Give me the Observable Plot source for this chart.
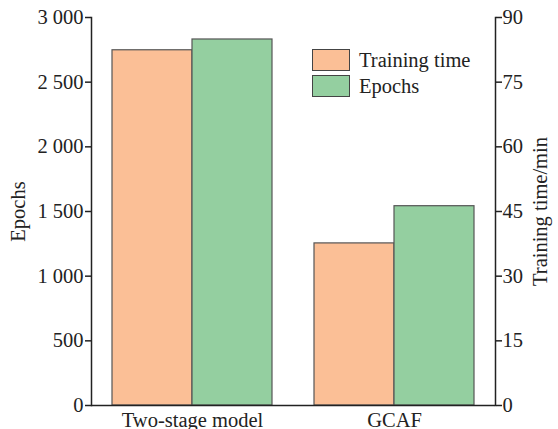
<!DOCTYPE html>
<html>
<head>
<meta charset="utf-8">
<script src="https://cdn.jsdelivr.net/npm/d3@7"></script>
<script src="https://cdn.jsdelivr.net/npm/@observablehq/plot@0.6"></script>
<style>
  body { margin: 0; background: #fff; }
  #wrap { position: relative; width: 558px; height: 429px; font-family: "Liberation Serif", "Times New Roman", serif; }
  #legend { position: absolute; left: 312px; top: 47px; font-size: 20.5px; color: #222; }
  .row { display: flex; align-items: center; height: 26px; }
  .sw { width: 38px; height: 22px; border: 1.2px solid #444; box-sizing: border-box; margin-right: 9px; }
</style>
</head>
<body>
<div id="wrap"></div>
<script>
const models = ["Two-stage model", "GCAF"];
const series = ["Training time", "Epochs"];
const colors = ["#fbbf96", "#94cfa0"];
const trainingTimeMin = [82.4, 37.6];   // right axis, minutes
const epochs = [2830, 1541];            // left axis
const leftTicks = [0, 500, 1000, 1500, 2000, 2500, 3000];
const rightTicks = [0, 15, 30, 45, 60, 75, 90];
const leftMax = 3000, rightMax = 90;
const k = leftMax / rightMax;

const rows = [];
models.forEach((m, i) => {
  rows.push({model: m, series: "Training time", y: trainingTimeMin[i] * k});
  rows.push({model: m, series: "Epochs", y: epochs[i]});
});

const fmt = d => d3.format(",")(d).replace(/,/g, " ");
const font = "Liberation Serif, Times New Roman, serif";

const chart = Plot.plot({
  width: 558,
  height: 429,
  marginLeft: 90,
  marginRight: 63,
  marginTop: 17,
  marginBottom: 24,
  style: {fontFamily: font, fontSize: "20.5px", color: "#222", background: "#fff"},
  fx: {domain: models, padding: 0, label: null},
  x: {domain: series, paddingInner: 0, paddingOuter: 0.25, axis: null},
  y: {domain: [0, leftMax]},
  color: {domain: series, range: colors},
  marks: [
    Plot.barY(rows, {fx: "model", x: "series", y: "y", fill: "series", stroke: "#555", strokeWidth: 1.2}),
    Plot.frame({anchor: "left", facetAnchor: "left", stroke: "#222", strokeWidth: 1.5}),
    Plot.frame({anchor: "right", facetAnchor: "right", stroke: "#222", strokeWidth: 1.5}),
    Plot.ruleY([0], {stroke: "#222", strokeWidth: 1.5}),
    Plot.axisY(leftTicks, {anchor: "left", tickSize: 6, tickPadding: 2, tickFormat: fmt,
      label: "Epochs", labelAnchor: "center", labelOffset: 81, labelArrow: false, strokeWidth: 1.5}),
    Plot.axisY(rightTicks.map(v => v * k), {anchor: "right", tickSize: 6, tickPadding: 1,
      tickFormat: d => String(Math.round(d / k)),
      label: "Training time/min", labelAnchor: "center", labelOffset: 51, labelArrow: false, strokeWidth: 1.5}),
    Plot.axisFx({anchor: "bottom", tickSize: 0, tickPadding: 7, label: null})
  ]
});

const wrap = document.getElementById("wrap");
wrap.appendChild(chart);
const legend = document.createElement("div");
legend.id = "legend";
series.forEach((s, i) => {
  const r = document.createElement("div");
  r.className = "row";
  const sw = document.createElement("div");
  sw.className = "sw";
  sw.style.background = colors[i];
  const t = document.createElement("span");
  t.textContent = s;
  r.appendChild(sw); r.appendChild(t);
  legend.appendChild(r);
});
wrap.appendChild(legend);
</script>
</body>
</html>
